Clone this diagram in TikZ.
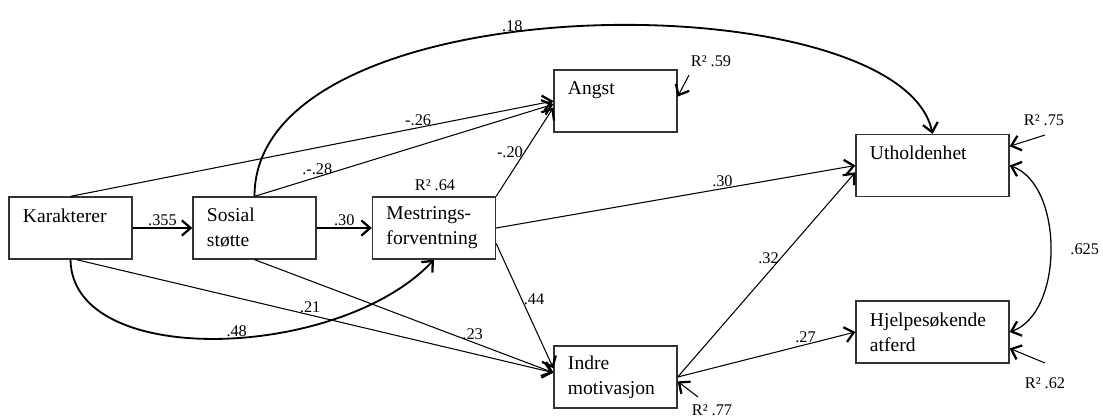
\documentclass[tikz,border=0pt]{standalone}
\usepackage{fontspec}
\setmainfont{Liberation Serif}
\usetikzlibrary{arrows.meta,positioning}

\begin{document}
\begin{tikzpicture}[
      x=0.025cm, y=-0.025cm,
      varbox/.style={draw=black!80,line width=0.9pt,align=left,inner xsep=0.35cm,inner ysep=0pt,text width=2.375cm,minimum height=1.55cm,font=\fontsize{13.9}{17.8}\selectfont},
      widebox/.style={varbox,text width=3.125cm},
      coef/.style={font=\fontsize{11.6}{13}\selectfont,inner sep=1pt},
      arr/.style={-{Straight Barb[length=2.2mm,width=3.8mm,line width=1.6pt]},line width=0.75pt},
      curvarr/.style={arr,line width=1.3pt},
      cov/.style={{Straight Barb[length=2.2mm,width=3.8mm,line width=1.6pt]}-{Straight Barb[length=2.2mm,width=3.8mm,line width=1.6pt]},line width=0.9pt}
    ]
    \useasboundingbox (0,0) rectangle (1103,417);

    % variabler
    \node[varbox] (kar) at (70.5,228) {Karakterer\\~};
    \node[varbox] (sos) at (254.5,228) {Sosial\\støtte};
    \node[varbox] (mes) at (434,228) {Mestrings-\\forventning};
    \node[varbox] (angst) at (615.5,101) {Angst\\~};
    \node[varbox] (indre) at (615.5,377) {Indre\\motivasjon};
    \node[widebox] (uth) at (932.5,165.5) {Utholdenhet\\~};
    \node[widebox] (hjelp) at (932.5,332) {Hjelpesøkende\\atferd};

    % forklart varians
    \node[coef] (r59) at (711,61) {R² .59};
    \node[coef] (r64) at (435,185) {R² .64};
    \node[coef] (r75) at (1044,120) {R² .75};
    \node[coef] (r62) at (1045,383) {R² .62};
    \node[coef] (r77) at (712,410) {R² .77};
    \coordinate (r59s) at (689,75);
    \coordinate (r75s) at (1045,135);
    \coordinate (r62s) at (1045,363);
    \coordinate (r77s) at (698,397);

    \draw[arr] (kar) -- node[coef,above]{.355} (sos);
    \draw[arr] (sos) -- node[coef,above]{.30} (mes);
    \draw[arr] (kar.north) -- node[coef,above,pos=0.72]{-.26} (angst.180);
    \draw[arr] (sos.north) -- node[coef,above,pos=0.21]{.-.28} (angst.183);
    \draw[arr] (mes.north east) -- node[coef,left,pos=0.5]{-.20} (angst.186);
    \draw[arr] (mes.east) -- node[coef,above,pos=0.63]{.30} (uth.west);
    \draw[arr] (mes.346) -- node[coef,right,pos=0.45]{.44} (indre.172);
    \draw[arr] (kar.south) ++(6,0) -- node[coef,above,pos=0.49]{.21} (indre.176);
    \draw[arr] (sos.south) -- node[coef,above,pos=0.73]{.23} (indre.176);
    \draw[arr] (indre.east) -- node[coef,left,pos=0.58]{.32} (uth.185);
    \draw[arr] (indre.east) -- node[coef,above,pos=0.72]{.27} (hjelp.west);

    % buede stier
    \draw[curvarr] (sos.north) .. controls (254,-20) and (900,-20) .. node[coef,above,pos=0.43,inner sep=0pt]{.18} (uth.north);
    \draw[curvarr] (kar.south) .. controls (72,370) and (340,360) .. node[coef,above,pos=0.54,inner sep=0pt]{.48} (mes.south);
    \draw[cov] (uth.east) .. controls (1064,185) and (1064,313) .. node[coef,right=0.45cm]{.625} (hjelp.east);

    % residualer
    \draw[arr] (r59s) -- (angst.4);
    \draw[arr] (r75s) -- (uth.14);
    \draw[arr] (r62s) -- (hjelp.348);
    \draw[arr] (r77s) -- (indre.356);
  \end{tikzpicture}
\end{document}
